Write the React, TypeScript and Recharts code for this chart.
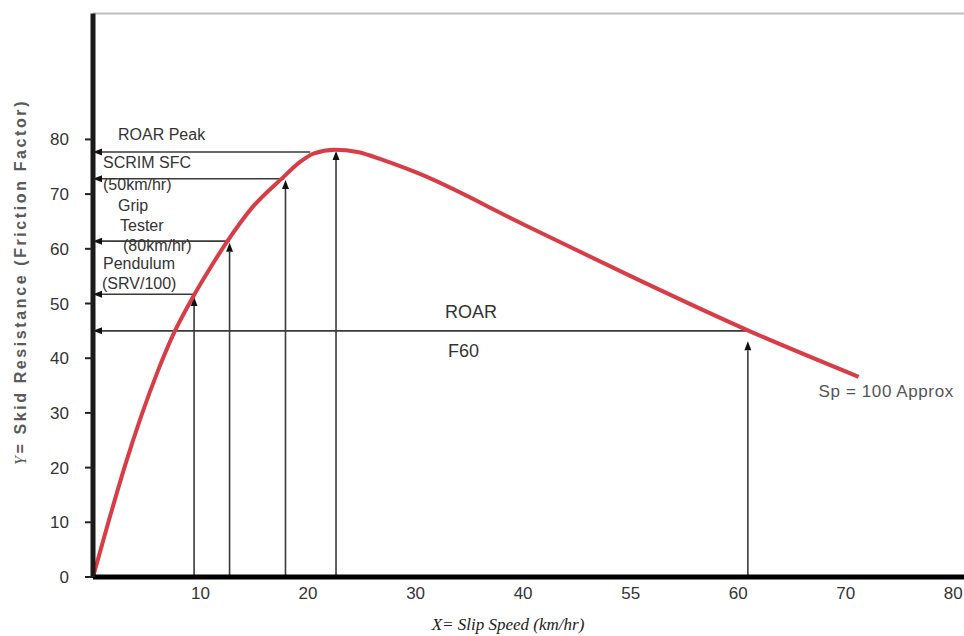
import React from 'react';
import { LineChart, Line, XAxis, YAxis, ReferenceLine } from 'recharts';

// friction curve (x = slip speed, y = friction factor)
const curveX = [0, 1.5, 3, 4.5, 6, 7.5, 9.3, 10.5, 12.5, 14.7, 17.7, 19.2, 20.5, 22.5, 24.6, 27, 30, 40, 50, 61, 71.2];
const curveY = [0, 10.5, 20.5, 29.5, 37.5, 44.5, 51.2, 55.2, 61.4, 67.3, 73.1, 75.8, 77.4, 78.1, 77.7, 76.2, 74, 64.5, 55, 45, 36.6];

const xTicks = [10, 20, 30, 40, 50, 60, 70, 80];
const xTickLabels = ['10', '20', '30', '40', '55', '60', '70', '80'];
const yTicks = [0, 10, 20, 30, 40, 50, 60, 70, 80];

// device readings marked with arrows
const readingNames = ['Pendulum', 'Grip Tester', 'SCRIM SFC', 'ROAR Peak', 'ROAR F60'];
const readingX = [9.4, 12.7, 17.9, 22.6, 60.9];
const readingY = [51.7, 61.4, 72.8, 77.7, 45.0];
const readingTipY = [51.2, 61.1, 72.6, 77.9, 43.1];
const readingLineEndX = [9.4, 12.7, 17.8, 20.2, 61.2];
const readingText = [
  ['Pendulum', '(SRV/100)'],
  ['Grip', 'Tester', '(80km/hr)'],
  ['SCRIM SFC', '(50km/hr)'],
  ['ROAR Peak'],
  ['ROAR', 'F60'],
];
const endNote = 'Sp = 100 Approx';

// text offsets from the left end of each horizontal arrow [dx, dy]
const textLayout = [
  [[10, -31], [9, -11]],
  [[25, -36], [27, -16], [30, 4]],
  [[10, -16], [10, 6]],
  [[25, -17]],
  [[352, -19], [355, 20]],
];
const textSize = [16, 16, 16, 16, 18];

const SANS = '"Liberation Sans", Arial, sans-serif';
const SERIF = '"Liberation Serif", "Times New Roman", serif';

const curveData = curveX.map((x, i) => ({ x, y: curveY[i] }));

const arrowShape = (texts?: string[], layout?: number[][], size = 16) => (props: any) => {
  const { x1, y1, x2, y2 } = props;
  const ang = Math.atan2(y2 - y1, x2 - x1);
  const len = 9;
  const half = 3.5;
  const bx = x2 - len * Math.cos(ang);
  const by = y2 - len * Math.sin(ang);
  const px = -Math.sin(ang) * half;
  const py = Math.cos(ang) * half;
  return (
    <g>
      <line x1={x1} y1={y1} x2={bx} y2={by} stroke="#3a3a3a" strokeWidth={1.6} />
      <polygon points={`${x2},${y2} ${bx + px},${by + py} ${bx - px},${by - py}`} fill="#111" />
      {texts &&
        layout &&
        texts.map((t, i) => (
          <text
            key={i}
            x={x2 + layout[i][0]}
            y={y2 + layout[i][1]}
            dominantBaseline="central"
            fontFamily={SANS}
            fontSize={size}
            fill="#333"
          >
            {t}
          </text>
        ))}
    </g>
  );
};

const renderEndNote = (props: any) => {
  const last = curveX.length - 1;
  if (props.index !== last && props.value !== curveY[last]) return null;
  return (
    <text
      x={props.x - 40}
      y={props.y + 15}
      dominantBaseline="central"
      fontFamily={SANS}
      fontSize={17}
      letterSpacing={0.6}
      fill="#555"
    >
      {endNote}
    </text>
  );
};

const YLabel = () => (
  <text
    x={20}
    y={282}
    transform="rotate(-90, 20, 282)"
    textAnchor="middle"
    dominantBaseline="central"
    fontFamily={SANS}
    fontSize={16}
    fontWeight="bold"
    letterSpacing={2.6}
    fill="#5a5a5a"
  >
    <tspan fontFamily={SERIF} fontStyle="italic" fontWeight="normal">Y</tspan>
    <tspan>= Skid Resistance (Friction Factor)</tspan>
  </text>
);

const XLabel = () => (
  <text x={508} y={624} textAnchor="middle" dominantBaseline="central" fontFamily={SERIF} fontStyle="italic" fontSize={17} fill="#222">
    X= Slip Speed (km/hr)
  </text>
);

export default function App() {
  return (
    <div style={{ position: 'absolute', left: 0, top: 0, width: 964, height: 636, background: '#fff' }}>
      <LineChart width={964} height={636} data={curveData} margin={{ top: 13.6, right: 0, bottom: 0, left: 0 }}>
        <XAxis
          type="number"
          dataKey="x"
          domain={[0, 81]}
          ticks={xTicks}
          interval={0}
          tickFormatter={(v: number) => xTickLabels[xTicks.indexOf(v)]}
          height={59}
          axisLine={{ stroke: '#000', strokeWidth: 5 }}
          tickLine={false}
          tickSize={0}
          tickMargin={10}
          tick={{ fill: '#333', fontSize: 17, fontFamily: SANS }}
        />
        <YAxis
          type="number"
          domain={[0, 103]}
          ticks={yTicks}
          interval={0}
          width={93}
          axisLine={{ stroke: '#1a1a1a', strokeWidth: 5 }}
          tickLine={{ stroke: '#222', strokeWidth: 2 }}
          tickSize={8}
          tickMargin={16}
          tick={{ fill: '#333', fontSize: 17, fontFamily: SANS }}
        />
        <ReferenceLine y={103} stroke="#bdbdbd" strokeWidth={2} />
        {readingNames.map((name, i) => (
          <ReferenceLine
            key={name + '-h'}
            segment={[
              { x: readingLineEndX[i], y: readingY[i] },
              { x: 0, y: readingY[i] },
            ]}
            shape={arrowShape(readingText[i], textLayout[i], textSize[i])}
          />
        ))}
        {readingNames.map((name, i) => (
          <ReferenceLine
            key={name + '-v'}
            segment={[
              { x: readingX[i], y: 0 },
              { x: readingX[i], y: readingTipY[i] },
            ]}
            shape={arrowShape()}
          />
        ))}
        <Line
          type="monotone"
          dataKey="y"
          stroke="#d83c47"
          strokeWidth={4}
          dot={false}
          isAnimationActive={false}
          label={renderEndNote}
        />
        <YLabel />
        <XLabel />
      </LineChart>
    </div>
  );
}
